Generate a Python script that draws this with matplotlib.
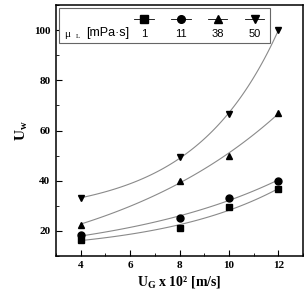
import matplotlib.pyplot as plt
import numpy as np
from matplotlib.offsetbox import AnchoredOffsetbox, DrawingArea, HPacker, TextArea, VPacker
from matplotlib.lines import Line2D
from matplotlib.ticker import MultipleLocator

# gas velocity U_G x 10^2 [m/s]
ug = [4, 8, 10, 12]
labels = ["1", "11", "38", "50"]
markers = ["s", "o", "^", "v"]
uw_1 = [16.5, 21.2, 29.5, 36.5]
uw_11 = [18.2, 25.0, 33.2, 40.0]
uw_38 = [22.5, 40.0, 50.0, 67.0]
uw_50 = [33.0, 49.5, 66.5, 100.0]
series = [uw_1, uw_11, uw_38, uw_50]

plt.rcParams['font.family'] = ['Liberation Serif', 'DejaVu Serif']
plt.rcParams['mathtext.fontset'] = 'custom'
plt.rcParams['mathtext.rm'] = 'Liberation Serif:bold'
plt.rcParams['mathtext.it'] = 'Liberation Serif:bold'
plt.rcParams['mathtext.bf'] = 'Liberation Serif:bold'


def exp_fit(x, y):
    # y = a + b*exp(c*x), scan c and solve a, b by least squares
    x = np.asarray(x, float)
    y = np.asarray(y, float)
    best = None
    for c in np.linspace(0.01, 0.6, 600):
        A = np.column_stack([np.ones_like(x), np.exp(c * x)])
        coef, *_ = np.linalg.lstsq(A, y, rcond=None)
        err = np.sum((A @ coef - y) ** 2)
        if best is None or err < best[0]:
            best = (err, coef[0], coef[1], c)
    return best[1:]


fig = plt.figure(figsize=(3.05, 2.96), dpi=100)
ax = fig.add_axes([56 / 305, 40 / 296, 247 / 305, 251 / 296])

xs = np.linspace(4, 12, 100)
for ys, m in zip(series, markers):
    a, b, c = exp_fit(ug, ys)
    ax.plot(xs, a + b * np.exp(c * xs), color='#8a8a8a', lw=0.8)
    ax.plot(ug, ys, m, color='black', ms=5, ls='none')

ax.set_xlim(3, 13)
ax.set_ylim(10, 110)
ax.xaxis.set_major_locator(MultipleLocator(2))
ax.xaxis.set_minor_locator(MultipleLocator(1))
ax.yaxis.set_major_locator(MultipleLocator(20))
ax.yaxis.set_minor_locator(MultipleLocator(10))
ax.set_xticks([4, 6, 8, 10, 12])
ax.tick_params(which='both', direction='in', labelsize=8)
ax.tick_params(axis='x', pad=3.5)
ax.tick_params(axis='y', pad=4)
ax.tick_params(which='major', length=4)
ax.tick_params(which='minor', length=2)
for t in ax.get_xticklabels() + ax.get_yticklabels():
    t.set_fontweight('bold')
for s in ax.spines.values():
    s.set_linewidth(1.1)

ax.set_xlabel("$\\mathrm{U_G}$ x 10\u00b2 [m/s]", fontsize=10, fontweight='bold', labelpad=3)
ax.set_ylabel("$\\mathrm{U_w}$", fontsize=11, fontweight='bold', labelpad=3)

# legend with markers above the labels
sans = dict(fontsize=8, family='Liberation Sans')
title = HPacker(children=[TextArea("\u03bc", textprops=dict(fontsize=8, family='Liberation Serif')),
                          TextArea("L", textprops=dict(fontsize=5, family='Liberation Serif')),
                          TextArea("[mPa\u00b7s]", textprops=dict(fontsize=9, family='Liberation Sans'))],
                align='bottom', pad=0, sep=4)
entries = []
for lab, m in zip(labels, markers):
    da = DrawingArea(16, 8, 0, 0)
    da.add_artist(Line2D([1, 15], [4, 4], color='black', lw=0.6))
    da.add_artist(Line2D([8], [4], marker=m, color='black', ms=5.5))
    ta = TextArea(lab, textprops=sans)
    entries.append(VPacker(children=[da, ta], align='center', pad=0, sep=3))
entry_row = HPacker(children=entries, align='bottom', pad=0, sep=10.5)
row = HPacker(children=[title, entry_row], align='bottom', pad=0, sep=3)
anchored = AnchoredOffsetbox(loc='upper left', child=row, pad=0.35, borderpad=0.25,
                             bbox_to_anchor=(0.0, 1.0), bbox_transform=ax.transAxes,
                             frameon=True)
anchored.patch.set_edgecolor('#666666')
anchored.patch.set_linewidth(0.8)
ax.add_artist(anchored)

fig.savefig("out.png", dpi=100)
